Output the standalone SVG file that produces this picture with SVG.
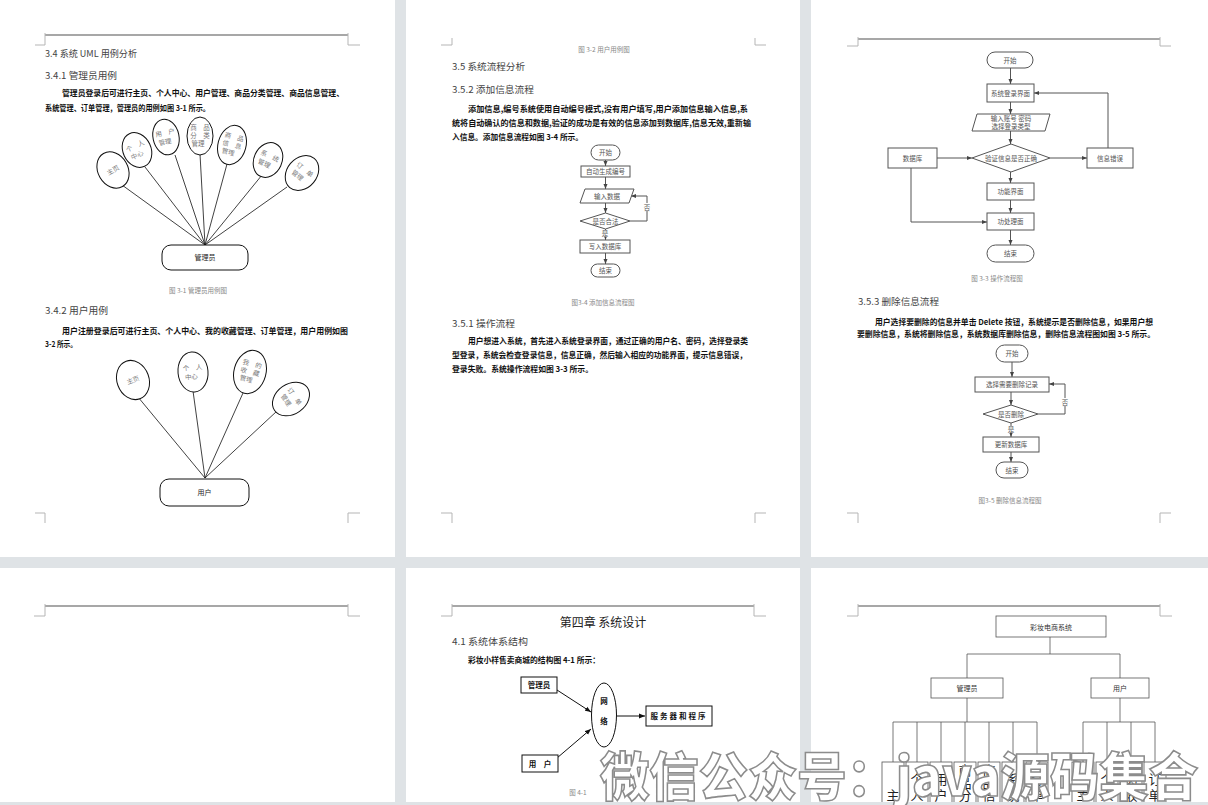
<svg xmlns="http://www.w3.org/2000/svg" width="1208" height="805" viewBox="0 0 1208 805">
<defs>
<style>
.bg{fill:#dfe3e6}
.page{fill:#fff}
.hdr{stroke:#8a8a8a;stroke-width:1.5;fill:none}
.mk{stroke:#b5b5b5;stroke-width:1;fill:none}
text{font-family:"Noto Sans CJK SC","Liberation Sans",sans-serif}
.h{fill:#444;font-size:9.5px}
.p{fill:#111;font-size:8px;font-weight:bold}
.cap{fill:#888;font-size:6.5px;text-anchor:middle}
.uc{fill:#fff;stroke:#111;stroke-width:1}
.ul{stroke:#111;stroke-width:0.8;fill:none}
.ut{fill:#777;font-size:6.5px;text-anchor:middle}
.act{fill:#fff;stroke:#111;stroke-width:1}
.at{fill:#222;font-size:7px;text-anchor:middle}
.fb{fill:#fff;stroke:#555;stroke-width:1}
.ft{fill:#555;font-size:6.5px;text-anchor:middle}
.fl{stroke:#555;stroke-width:1;fill:none}
.bx{fill:#fff;stroke:#111;stroke-width:1}
.bt{fill:#111;font-size:7.5px;font-weight:bold;text-anchor:middle}
.tl{stroke:#555;stroke-width:0.8;fill:none}
.tb{fill:#fff;stroke:#555;stroke-width:0.8}
.tt{fill:#333;font-size:7px;text-anchor:middle}
.lt{fill:#222;font-size:13px;text-anchor:middle}
.wm{font-family:"Noto Sans CJK SC",sans-serif;font-size:52px;font-weight:900;fill:#fff;stroke:#8c8c8c;stroke-width:1.6}
</style>
<marker id="ah" viewBox="0 0 10 10" refX="10" refY="5" markerWidth="5" markerHeight="5" orient="auto"><path d="M0,1 L10,5 L0,9 z" fill="#444"/></marker>
<marker id="ab" viewBox="0 0 10 10" refX="10" refY="5" markerWidth="6" markerHeight="6" orient="auto"><path d="M0,1 L10,5 L0,9 z" fill="#111"/></marker>
<clipPath id="row2"><rect x="0" y="568" width="1208" height="234"/></clipPath>
</defs>

<rect class="bg" x="0" y="0" width="1208" height="805"/>
<g id="pages">
<rect class="page" x="0" y="0" width="395" height="557"/>
<rect class="page" x="406" y="0" width="394" height="557"/>
<rect class="page" x="811" y="0" width="397" height="557"/>
<rect class="page" x="0" y="568" width="395" height="234"/>
<rect class="page" x="406" y="568" width="394" height="234"/>
<rect class="page" x="811" y="568" width="397" height="234"/>
</g>

<g id="page-marks">
<line class="hdr" x1="45" y1="35" x2="348" y2="35"/>
<path class="mk" d="M45,33 V45 H35 M348,33 V45 H360"/>
<path class="mk" d="M452,38 V45 H441 M755,38 V45 H766"/>
<line class="hdr" x1="858" y1="39" x2="1160" y2="39"/>
<path class="mk" d="M858,37 V46 H847 M1160,37 V46 H1171"/>
<path class="mk" d="M35,513 H45 V523 M360,513 H348 V523"/>
<path class="mk" d="M441,513 H452 V523 M766,513 H755 V523"/>
<path class="mk" d="M847,513 H858 V523 M1171,513 H1160 V523"/>
<line class="hdr" x1="45" y1="606" x2="348" y2="606"/>
<path class="mk" d="M45,604 V616 H34 M348,604 V616 H360"/>
<line class="hdr" x1="452" y1="606" x2="754" y2="606"/>
<path class="mk" d="M452,604 V616 H441 M754,604 V616 H766"/>
<line class="hdr" x1="858" y1="606" x2="1160" y2="606"/>
<path class="mk" d="M858,604 V616 H847 M1160,604 V616 H1172"/>
</g>

<g id="page1-text">
<text class="h" x="45" y="56.5" textLength="92" lengthAdjust="spacingAndGlyphs">3.4 系统 UML 用例分析</text>
<text class="h" x="45" y="78.5" textLength="72" lengthAdjust="spacingAndGlyphs">3.4.1 管理员用例</text>
<text class="p" x="62" y="95.5" textLength="282" lengthAdjust="spacingAndGlyphs">管理员登录后可进行主页、个人中心、用户管理、商品分类管理、商品信息管理、</text>
<text class="p" x="45" y="111" textLength="165" lengthAdjust="spacingAndGlyphs">系统管理、订单管理，管理员的用例如图 3-1 所示。</text>
<text class="cap" x="198" y="292.5">图 3-1 管理员用例图</text>
<text class="h" x="45" y="314" textLength="63" lengthAdjust="spacingAndGlyphs">3.4.2 用户用例</text>
<text class="p" x="62" y="334" textLength="286" lengthAdjust="spacingAndGlyphs">用户注册登录后可进行主页、个人中心、我的收藏管理、订单管理，用户用例如图</text>
<text class="p" x="45" y="346.5" textLength="32" lengthAdjust="spacingAndGlyphs">3-2 所示。</text>
</g>

<g id="admin-usecase-lines">
<path class="ul" d="M205,245 L122,185 M205,245 L145,167 M205,245 L175,155 M205,245 L200,154 M205,245 L227,164 M205,245 L262,175 M205,245 L287,187"/>
</g>
<g id="uc-admin-home" transform="translate(113,170) rotate(-30)"><ellipse class="uc" rx="15" ry="19"/><text class="ut" y="2.5">主页</text></g>
<g id="uc-admin-center" transform="translate(137,150) rotate(-25)"><ellipse class="uc" rx="14" ry="18"/><text class="ut" y="-2">个　人</text><text class="ut" x="-2" y="7">中心</text></g>
<g id="uc-admin-user" transform="translate(166,137) rotate(-12)"><ellipse class="uc" rx="13" ry="18"/><text class="ut" y="-2">用　户</text><text class="ut" x="-2" y="7">管理</text></g>
<g id="uc-admin-cat" transform="translate(200,136)"><ellipse class="uc" rx="13" ry="19"/><text class="ut" y="-6">商　品</text><text class="ut" y="2">分　类</text><text class="ut" x="-2" y="10">管理</text></g>
<g id="uc-admin-goods" transform="translate(232,145) rotate(15)"><ellipse class="uc" rx="14" ry="20"/><text class="ut" y="-6">商　品</text><text class="ut" y="2">信　息</text><text class="ut" x="-2" y="10">管理</text></g>
<g id="uc-admin-sys" transform="translate(268,160) rotate(25)"><ellipse class="uc" rx="14" ry="18"/><text class="ut" y="-2">系　统</text><text class="ut" x="-2" y="7">管理</text></g>
<g id="uc-admin-order" transform="translate(302,173) rotate(40)"><ellipse class="uc" rx="15" ry="19"/><text class="ut" y="-2">订　单</text><text class="ut" x="-2" y="7">管理</text></g>
<g id="actor-admin"><rect class="act" x="162" y="245" width="86" height="25" rx="9"/><text class="at" x="205" y="260">管理员</text></g>

<g id="user-usecase-lines">
<path class="ul" d="M205,478 L138,397 M205,478 L193,391 M205,478 L243,393 M205,478 L277,411"/>
</g>
<g id="uc-user-home" transform="translate(133,380) rotate(-20)"><ellipse class="uc" rx="16" ry="20"/><text class="ut" y="2.5">主页</text></g>
<g id="uc-user-center" transform="translate(193,372) rotate(-5)"><ellipse class="uc" rx="15" ry="20"/><text class="ut" y="-2">个　人</text><text class="ut" x="-2" y="7">中心</text></g>
<g id="uc-user-fav" transform="translate(250,372) rotate(15)"><ellipse class="uc" rx="16" ry="22"/><text class="ut" y="-6">我　的</text><text class="ut" y="2">收　藏</text><text class="ut" x="-2" y="10">管理</text></g>
<g id="uc-user-order" transform="translate(291,399) rotate(55)"><ellipse class="uc" rx="15" ry="20"/><text class="ut" y="-2">订　单</text><text class="ut" x="-2" y="7">管理</text></g>
<g id="actor-user"><rect class="act" x="160" y="479" width="89" height="27" rx="9"/><text class="at" x="204.5" y="495">用户</text></g>

<g id="page2-text">
<text class="cap" x="604" y="52">图 3-2 用户用例图</text>
<text class="h" x="452" y="70" textLength="73" lengthAdjust="spacingAndGlyphs">3.5 系统流程分析</text>
<text class="h" x="452" y="93" textLength="82" lengthAdjust="spacingAndGlyphs">3.5.2 添加信息流程</text>
<text class="p" x="468" y="112" textLength="280" lengthAdjust="spacingAndGlyphs">添加信息,编号系统使用自动编号模式,没有用户填写,用户添加信息输入信息,系</text>
<text class="p" x="452" y="126" textLength="299" lengthAdjust="spacingAndGlyphs">统将自动确认的信息和数据,验证的成功是有效的信息添加到数据库,信息无效,重新输</text>
<text class="p" x="452" y="140" textLength="131" lengthAdjust="spacingAndGlyphs">入信息。添加信息流程如图 3-4 所示。</text>
<text class="cap" x="603" y="305">图3-4 添加信息流程图</text>
<text class="h" x="452" y="327" textLength="63" lengthAdjust="spacingAndGlyphs">3.5.1 操作流程</text>
<text class="p" x="468" y="344" textLength="280" lengthAdjust="spacingAndGlyphs">用户想进入系统，首先进入系统登录界面，通过正确的用户名、密码，选择登录类</text>
<text class="p" x="452" y="358" textLength="295" lengthAdjust="spacingAndGlyphs">型登录，系统会检查登录信息，信息正确，然后输入相应的功能界面，提示信息错误，</text>
<text class="p" x="452" y="372" textLength="141" lengthAdjust="spacingAndGlyphs">登录失败。系统操作流程如图 3-3 所示。</text>
</g>

<g id="fc34-connectors">
<line class="fl" x1="605.5" y1="160" x2="605.5" y2="166" marker-end="url(#ah)"/>
<line class="fl" x1="605.5" y1="177" x2="605.5" y2="189" marker-end="url(#ah)"/>
<line class="fl" x1="605.5" y1="203" x2="605.5" y2="213" marker-end="url(#ah)"/>
<polyline class="fl" points="630,221 647,221 647,196 631,196" marker-end="url(#ah)"/>
<line class="fl" x1="605.5" y1="229" x2="605.5" y2="240" marker-end="url(#ah)"/>
<line class="fl" x1="605.5" y1="253" x2="605.5" y2="264" marker-end="url(#ah)"/>
<rect x="643" y="203" width="8" height="8" fill="#fff"/>
<text class="ft" x="647" y="209.5">否</text>
<rect x="601" y="230" width="8" height="7" fill="#fff"/>
<text class="ft" x="605" y="236">是</text>
</g>
<g id="fc34-start"><rect class="fb" x="591" y="145" width="29" height="15" rx="7.5"/><text class="ft" x="605.5" y="155">开始</text></g>
<g id="fc34-auto"><rect class="fb" x="581" y="166" width="49" height="11"/><text class="ft" x="605.5" y="174">自动生成编号</text></g>
<g id="fc34-input"><polygon class="fb" points="585,189 634,189 629,203 580,203"/><text class="ft" x="607" y="198.5">输入数据</text></g>
<g id="fc34-check"><polygon class="fb" points="605.5,213 630,221 605.5,229 580,221"/><text class="ft" x="605.5" y="223.5">是否合法</text></g>
<g id="fc34-write"><rect class="fb" x="580" y="240" width="50" height="13"/><text class="ft" x="605" y="249">写入数据库</text></g>
<g id="fc34-end"><rect class="fb" x="591" y="264" width="29" height="13" rx="6.5"/><text class="ft" x="605.5" y="273">结束</text></g>

<g id="fc33-connectors">
<line class="fl" x1="1010.5" y1="68" x2="1010.5" y2="84" marker-end="url(#ah)"/>
<line class="fl" x1="1010.5" y1="102" x2="1010.5" y2="114" marker-end="url(#ah)"/>
<line class="fl" x1="1010.5" y1="131" x2="1010.5" y2="144" marker-end="url(#ah)"/>
<line class="fl" x1="937" y1="158" x2="972" y2="158" marker-end="url(#ah)"/>
<line class="fl" x1="1050" y1="158" x2="1087" y2="158" marker-end="url(#ah)"/>
<polyline class="fl" points="1108,148 1108,93 1034,93" marker-end="url(#ah)"/>
<line class="fl" x1="1010.5" y1="172" x2="1010.5" y2="183" marker-end="url(#ah)"/>
<line class="fl" x1="1010.5" y1="200" x2="1010.5" y2="213" marker-end="url(#ah)"/>
<polyline class="fl" points="911,168 911,222 987,222" marker-end="url(#ah)"/>
<line class="fl" x1="1010.5" y1="230" x2="1010.5" y2="245" marker-end="url(#ah)"/>
</g>
<g id="fc33-start"><rect class="fb" x="987" y="52" width="46" height="16" rx="8"/><text class="ft" x="1010" y="62.5">开始</text></g>
<g id="fc33-login"><rect class="fb" x="987" y="84" width="47" height="18"/><text class="ft" x="1010.5" y="95.5">系统登录界面</text></g>
<g id="fc33-input"><polygon class="fb" points="977,114 1050,114 1045,131 972,131"/><text class="ft" x="1011" y="121">输入账号 密码</text><text class="ft" x="1011" y="129">选择登录类型</text></g>
<g id="fc33-check"><polygon class="fb" points="1011,144 1050,158 1011,172 972,158"/><text class="ft" x="1011" y="160.5">验证信息是否正确</text></g>
<g id="fc33-db"><rect class="fb" x="888" y="148" width="49" height="20"/><text class="ft" x="912.5" y="160.5">数据库</text></g>
<g id="fc33-err"><rect class="fb" x="1087" y="148" width="46" height="20"/><text class="ft" x="1110" y="160.5">信息错误</text></g>
<g id="fc33-func"><rect class="fb" x="987" y="183" width="47" height="17"/><text class="ft" x="1010.5" y="194">功能界面</text></g>
<g id="fc33-proc"><rect class="fb" x="987" y="213" width="47" height="17"/><text class="ft" x="1010.5" y="224">功处理面</text></g>
<g id="fc33-end"><rect class="fb" x="987" y="245" width="47" height="17" rx="8.5"/><text class="ft" x="1010.5" y="256">结束</text></g>

<g id="page3-text">
<text class="cap" x="997" y="281">图 3-3 操作流程图</text>
<text class="h" x="858" y="305" textLength="81" lengthAdjust="spacingAndGlyphs">3.5.3 删除信息流程</text>
<text class="p" x="875" y="325" textLength="278" lengthAdjust="spacingAndGlyphs">用户选择要删除的信息并单击 Delete 按钮，系统提示是否删除信息，如果用户想</text>
<text class="p" x="857" y="337" textLength="298" lengthAdjust="spacingAndGlyphs">要删除信息，系统将删除信息，系统数据库删除信息，删除信息流程图如图 3-5 所示。</text>
<text class="cap" x="1010" y="503">图3-5 删除信息流程图</text>
</g>

<g id="fc35-connectors">
<line class="fl" x1="1012" y1="362" x2="1012" y2="377" marker-end="url(#ah)"/>
<line class="fl" x1="1011" y1="392" x2="1011" y2="405" marker-end="url(#ah)"/>
<polyline class="fl" points="1038,414 1065,414 1065,384 1049,384" marker-end="url(#ah)"/>
<line class="fl" x1="1011" y1="423" x2="1011" y2="437" marker-end="url(#ah)"/>
<line class="fl" x1="1011" y1="452" x2="1011" y2="462" marker-end="url(#ah)"/>
<rect x="1061" y="398" width="8" height="8" fill="#fff"/>
<text class="ft" x="1065" y="404.5">否</text>
<rect x="1007" y="426" width="8" height="7" fill="#fff"/>
<text class="ft" x="1011" y="432">是</text>
</g>
<g id="fc35-start"><rect class="fb" x="996" y="345" width="32" height="17" rx="8.5"/><text class="ft" x="1012" y="356">开始</text></g>
<g id="fc35-select"><rect class="fb" x="975" y="377" width="74" height="15"/><text class="ft" x="1012" y="387">选择需要删除记录</text></g>
<g id="fc35-check"><polygon class="fb" points="1011,405 1038,414 1011,423 983,414"/><text class="ft" x="1011" y="416.5">是否删除</text></g>
<g id="fc35-update"><rect class="fb" x="983" y="437" width="56" height="15"/><text class="ft" x="1011" y="447">更新数据库</text></g>
<g id="fc35-end"><rect class="fb" x="996" y="462" width="32" height="16" rx="8"/><text class="ft" x="1012" y="472.5">结束</text></g>

<g id="page5-text">
<text x="603" y="627" font-size="12" fill="#222" text-anchor="middle">第四章  系统设计</text>
<text class="h" x="452" y="645" textLength="76" lengthAdjust="spacingAndGlyphs">4.1 系统体系结构</text>
<text class="p" x="468" y="663" textLength="132" lengthAdjust="spacingAndGlyphs">彩妆小样售卖商城的结构图 4-1 所示：</text>
<text class="cap" x="578" y="795" font-size="7">图 4-1</text>
</g>
<g id="arch-connectors">
<line stroke="#111" stroke-width="1" x1="557" y1="690" x2="591" y2="712" marker-end="url(#ab)"/>
<line stroke="#111" stroke-width="1" x1="557" y1="758" x2="591" y2="729" marker-end="url(#ab)"/>
<line stroke="#111" stroke-width="1" x1="617" y1="716" x2="645" y2="716" marker-end="url(#ab)"/>
</g>
<g id="arch-admin"><rect class="bx" x="521" y="677" width="36" height="16"/><text class="bt" x="539" y="688">管理员</text></g>
<g id="arch-user"><rect class="bx" x="522" y="755" width="36" height="17"/><text class="bt" x="540" y="766.5">用　户</text></g>
<g id="arch-net"><ellipse class="bx" cx="604" cy="715" rx="12.5" ry="32"/><text class="bt" x="604" y="704">网</text><text class="bt" x="604" y="724">络</text></g>
<g id="arch-server"><rect class="bx" x="646" y="706" width="66" height="20"/><text class="bt" x="679" y="719" letter-spacing="2">服务器和程序</text></g>

<g id="tree">
<g id="tree-connectors">
<path class="tl" d="M1050,637 V654 M967,654 H1120 M967,654 V678 M1120,654 V678"/>
<path class="tl" d="M967,698 V722 M893,722 H1037 M893,722 V762 M917,722 V762 M941,722 V762 M965,722 V762 M989,722 V762 M1013,722 V762 M1037,722 V762"/>
<path class="tl" d="M1120,698 V722 M1083,722 H1155 M1083,722 V762 M1107,722 V762 M1131,722 V762 M1155,722 V762"/>
</g>
<g id="tree-root"><rect class="tb" x="996" y="616" width="110" height="21"/><text class="tt" x="1051" y="629.5">彩妆电商系统</text></g>
<g id="tree-admin"><rect class="tb" x="931" y="678" width="72" height="20"/><text class="tt" x="967" y="690.5">管理员</text></g>
<g id="tree-user"><rect class="tb" x="1091" y="678" width="58" height="20"/><text class="tt" x="1120" y="690.5">用户</text></g>
<g clip-path="url(#row2)">
<rect class="tb" x="882" y="762" width="22" height="60"/>
<rect class="tb" x="906" y="762" width="22" height="60"/>
<rect class="tb" x="930" y="762" width="22" height="60"/>
<rect class="tb" x="954" y="762" width="22" height="60"/>
<rect class="tb" x="978" y="762" width="22" height="60"/>
<rect class="tb" x="1002" y="762" width="22" height="60"/>
<rect class="tb" x="1026" y="762" width="22" height="60"/>
<rect class="tb" x="1072" y="762" width="22" height="60"/>
<rect class="tb" x="1096" y="762" width="22" height="60"/>
<rect class="tb" x="1120" y="762" width="22" height="60"/>
<rect class="tb" x="1144" y="762" width="22" height="60"/>
</g>
<g id="leaf-a1"><text class="lt" x="893" y="800">主</text></g>
<g id="leaf-a2"><text class="lt" x="917" y="784">个</text><text class="lt" x="917" y="800">人</text></g>
<g id="leaf-a3"><text class="lt" x="941" y="784">用</text><text class="lt" x="941" y="800">户</text></g>
<g id="leaf-a4"><text class="lt" x="965" y="775">商</text><text class="lt" x="965" y="787.5">品</text><text class="lt" x="965" y="800">分</text></g>
<g id="leaf-a5"><text class="lt" x="989" y="775">商</text><text class="lt" x="989" y="787.5">品</text><text class="lt" x="989" y="800">信</text></g>
<g id="leaf-a6"><text class="lt" x="1013" y="784">系</text><text class="lt" x="1013" y="800">统</text></g>
<g id="leaf-a7"><text class="lt" x="1037" y="784">订</text><text class="lt" x="1037" y="800">单</text></g>
<g id="leaf-u1"><text class="lt" x="1083" y="800">主</text></g>
<g id="leaf-u2"><text class="lt" x="1107" y="784">个</text><text class="lt" x="1107" y="800">人</text></g>
<g id="leaf-u3"><text class="lt" x="1131" y="775">我</text><text class="lt" x="1131" y="787.5">的</text><text class="lt" x="1131" y="800">收</text></g>
<g id="leaf-u4"><text class="lt" x="1155" y="784">订</text><text class="lt" x="1155" y="800">单</text></g>
</g>

<g id="watermark">
<text class="wm" x="600" y="796" textLength="598" lengthAdjust="spacingAndGlyphs">微信公众号：java源码集合</text>
</g>
</svg>
